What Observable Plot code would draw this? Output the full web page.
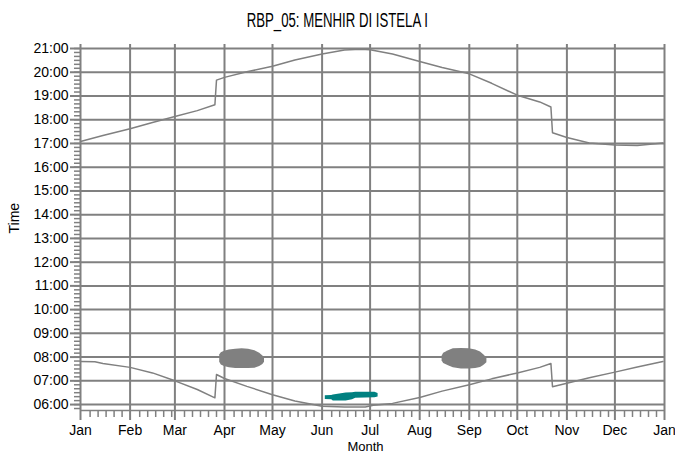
<!DOCTYPE html>
<html>
<head>
<meta charset="utf-8">
<script src="https://cdn.jsdelivr.net/npm/d3@7"></script>
<script src="https://cdn.jsdelivr.net/npm/@observablehq/plot@0.6"></script>
<style>
  body { margin: 0; background: #fff; }
  #title {
    height: 30px; box-sizing: border-box; padding-top: 11px;
    text-align: center; color: #000;
    font: 20px/18px "Liberation Sans", Arial, sans-serif;
  }
  #title span { display: inline-block; transform: scaleX(0.66); transform-origin: center; }
</style>
</head>
<body>
<div id="title"><span>RBP_05: MENHIR DI ISTELA I</span></div>
<div id="chart"></div>
<script>
// Sunset and sunrise (local clock time, with the daylight-saving jumps)
const sunset = [
  ["2021-01-01", "17:05"], ["2021-01-15", "17:20"], ["2021-02-01", "17:37"],
  ["2021-02-15", "17:53"], ["2021-03-01", "18:08"], ["2021-03-15", "18:23"],
  ["2021-03-26", "18:38"], ["2021-03-27", "19:40"], ["2021-04-01", "19:47"],
  ["2021-04-15", "20:01"], ["2021-05-01", "20:15"], ["2021-05-15", "20:31"],
  ["2021-06-01", "20:46"], ["2021-06-15", "20:56"], ["2021-06-25", "20:58"],
  ["2021-07-01", "20:57"], ["2021-07-15", "20:46"], ["2021-08-01", "20:27"],
  ["2021-08-15", "20:12"], ["2021-09-01", "19:56"], ["2021-09-15", "19:32"],
  ["2021-10-01", "19:02"], ["2021-10-15", "18:45"], ["2021-10-22", "18:32"],
  ["2021-10-23", "17:27"], ["2021-11-01", "17:15"], ["2021-11-15", "17:01"],
  ["2021-12-01", "16:56"], ["2021-12-15", "16:55"], ["2021-12-31", "17:01"]
];
const sunrise = [
  ["2021-01-01", "07:49"], ["2021-01-10", "07:48"], ["2021-01-15", "07:44"],
  ["2021-02-01", "07:34"], ["2021-02-15", "07:20"], ["2021-03-01", "07:00"],
  ["2021-03-15", "06:38"], ["2021-03-26", "06:17"], ["2021-03-27", "07:16"],
  ["2021-04-01", "07:06"], ["2021-04-15", "06:46"], ["2021-05-01", "06:25"],
  ["2021-05-15", "06:09"], ["2021-06-01", "05:56"], ["2021-06-15", "05:54"],
  ["2021-06-28", "05:54"], ["2021-07-03", "05:58"], ["2021-07-15", "06:03"],
  ["2021-08-01", "06:18"], ["2021-08-15", "06:34"], ["2021-09-01", "06:50"],
  ["2021-09-15", "07:05"], ["2021-10-01", "07:20"], ["2021-10-15", "07:34"],
  ["2021-10-22", "07:44"], ["2021-10-23", "06:45"], ["2021-11-01", "06:54"],
  ["2021-11-15", "07:08"], ["2021-12-01", "07:22"], ["2021-12-15", "07:35"],
  ["2021-12-31", "07:49"]
];

// Alignment windows: [date, earliest, latest]
const springWindow = [
  ["2021-03-29", "07:47", "08:05"], ["2021-03-30", "07:40", "08:11"],
  ["2021-04-01", "07:36", "08:15"], ["2021-04-04", "07:33", "08:18"],
  ["2021-04-08", "07:31", "08:20"], ["2021-04-12", "07:31", "08:21"],
  ["2021-04-16", "07:31", "08:20"], ["2021-04-20", "07:32", "08:16"],
  ["2021-04-23", "07:36", "08:10"], ["2021-04-25", "07:41", "08:03"],
  ["2021-04-26", "07:47", "07:58"]
];
const autumnWindow = [
  ["2021-08-15", "07:50", "08:02"], ["2021-08-16", "07:44", "08:10"],
  ["2021-08-19", "07:38", "08:16"], ["2021-08-22", "07:33", "08:21"],
  ["2021-08-27", "07:30", "08:22"], ["2021-09-01", "07:30", "08:21"],
  ["2021-09-05", "07:31", "08:18"], ["2021-09-08", "07:34", "08:13"],
  ["2021-09-10", "07:39", "08:06"], ["2021-09-12", "07:46", "07:58"]
];
const solsticeWindow = [
  ["2021-06-03", "06:13", "06:22"], ["2021-06-07", "06:12", "06:23"],
  ["2021-06-08", "06:09", "06:24"], ["2021-06-12", "06:09", "06:27"],
  ["2021-06-16", "06:09", "06:29"], ["2021-06-20", "06:12", "06:30"],
  ["2021-06-22", "06:16", "06:31"], ["2021-07-04", "06:17", "06:31"],
  ["2021-07-06", "06:19", "06:28"]
];

// Axis labels
const monthLabels = ["Jan", "Feb", "Mar", "Apr", "May", "Jun", "Jul", "Aug", "Sep", "Oct", "Nov", "Dec", "Jan"];
const hourLabels = ["06:00", "07:00", "08:00", "09:00", "10:00", "11:00", "12:00", "13:00",
                    "14:00", "15:00", "16:00", "17:00", "18:00", "19:00", "20:00", "21:00"];

const GRAY = "#808080";
const TEAL = "#008080";
const FONT = "'Liberation Sans', Arial, sans-serif";

const parseDate = d3.utcParse("%Y-%m-%d");
const hm = s => { const [h, m] = s.split(":").map(Number); return h + m / 60; };
const toPoints = rows => rows.map(([d, t]) => ({date: parseDate(d), time: hm(t)}));
const toBand = rows => rows.map(([d, lo, hi]) => ({date: parseDate(d), lo: hm(lo), hi: hm(hi)}));

const xStart = parseDate("2021-01-01");
const xEnd = parseDate("2022-01-01");
const yDomain = [hm("05:45"), hm("21:00")];

const monthTicks = d3.utcMonth.range(xStart, d3.utcDay.offset(xEnd, 1));
const minorX = monthTicks.slice(0, -1).flatMap(m =>
  [7, 12, 17, 22, 27].map(day => d3.utcDay.offset(m, day - 1)).filter(d => d < d3.utcMonth.offset(m, 1)));
const hourTicks = hourLabels.map(hm);
const minorY = d3.range(hm("05:50") * 6, hm("21:00") * 6 + 0.5).map(k => k / 6);

const monthName = d => monthLabels[monthTicks.findIndex(m => +m === +d)];
const hourName = d => hourLabels[hourTicks.findIndex(h => Math.abs(h - d) < 1e-6)];

const chart = Plot.plot({
  width: 675,
  height: 424,
  marginTop: 18,
  marginBottom: 44,
  marginLeft: 80,
  marginRight: 11,
  style: {fontFamily: FONT, fontSize: "14px", color: "#000", background: "#fff"},
  x: {type: "utc", domain: [xStart, xEnd]},
  y: {domain: yDomain},
  marks: [
    // grid
    Plot.ruleY(hourTicks, {stroke: GRAY, strokeWidth: 2}),
    Plot.ruleX(monthTicks, {stroke: GRAY, strokeWidth: 2, insetTop: -4}),
    Plot.ruleY([yDomain[0]], {stroke: GRAY, strokeWidth: 1.5}),
    // alignment windows
    Plot.areaY(toBand(springWindow), {x: "date", y1: "lo", y2: "hi", fill: GRAY}),
    Plot.areaY(toBand(autumnWindow), {x: "date", y1: "lo", y2: "hi", fill: GRAY}),
    Plot.areaY(toBand(solsticeWindow), {x: "date", y1: "lo", y2: "hi", fill: TEAL}),
    // sun curves
    Plot.line(toPoints(sunset), {x: "date", y: "time", stroke: GRAY, strokeWidth: 1.5}),
    Plot.line(toPoints(sunrise), {x: "date", y: "time", stroke: GRAY, strokeWidth: 1.5}),
    // axes
    Plot.axisY({ticks: minorY, tickSize: 6, fill: "none", stroke: GRAY, strokeWidth: 1.5, label: null}),
    Plot.axisY({ticks: hourTicks, tickSize: 10, tickPadding: 2, stroke: GRAY, strokeWidth: 2,
                tickFormat: hourName, label: null}),
    Plot.axisX({ticks: minorX, tickSize: 7, fill: "none", stroke: GRAY, strokeWidth: 1.5, label: null}),
    Plot.axisX({ticks: monthTicks, tickSize: 10, tickPadding: 5, stroke: GRAY, strokeWidth: 2,
                tickFormat: monthName, label: null}),
    Plot.text(["Time"], {frameAnchor: "left", rotate: -90, dx: -66, dy: 4, fill: "#000"}),
    Plot.text(["Month"], {frameAnchor: "bottom", dx: -7, dy: 40, fontSize: 13, fill: "#000"})
  ]
});
document.getElementById("chart").append(chart);
</script>
</body>
</html>
